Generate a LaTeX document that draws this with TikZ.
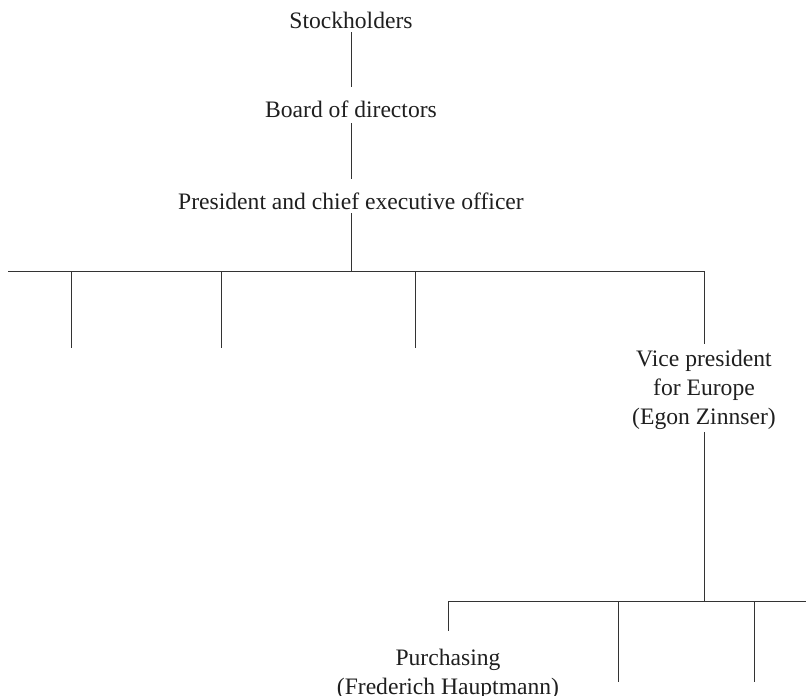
\documentclass[tikz,border=0pt]{standalone}
\usepackage{fontspec}
\setmainfont{Liberation Serif}
\begin{document}
\begin{tikzpicture}[x=1pt,y=-1pt,
  lbl/.style={inner sep=0pt,outer sep=0pt,align=center,text=black!88,
    font=\fontsize{23.6pt}{29pt}\selectfont},
  link/.style={draw=black!80,line width=1pt}]
  \useasboundingbox (0,0) rectangle (806,696);

  % chain of command
  \node[lbl,anchor=base] (stock) at (351,28) {Stockholders};
  \node[lbl,anchor=base] (board) at (351,117) {Board of directors};
  \node[lbl,anchor=base] (pres)  at (351,209) {President and chief executive officer};
  \node[lbl,anchor=north] (vp) at (704,350) {Vice president\\for Europe\\(Egon Zinnser)};
  \node[lbl,anchor=north] (purch) at (448,649) {Purchasing\\(Frederich Hauptmann)};

  % junction points
  \coordinate (top) at (351,271);
  \coordinate (tl) at (8,271);
  \coordinate (tr) at (704,271);
  \coordinate (t1) at (71,271);   \coordinate (d1) at (71,348);
  \coordinate (t2) at (221,271);  \coordinate (d2) at (221,348);
  \coordinate (t3) at (415,271);  \coordinate (d3) at (415,348);
  \coordinate (bot) at (704,601);
  \coordinate (bl) at (448,601);
  \coordinate (br) at (806,601);
  \coordinate (b1) at (618,601);  \coordinate (e1) at (618,682);
  \coordinate (b2) at (754,601);  \coordinate (e2) at (754,682);

  % shifts are in page points: positive goes up
  \draw[link] ([yshift=-4pt]stock.base) -- ([yshift=30pt]board.base);
  \draw[link] ([yshift=-6pt]board.base) -- ([yshift=30pt]pres.base);
  \draw[link] ([yshift=-4pt]pres.base) -- (top);

  \draw[link] (tl) -- (tr);
  \draw[link] (t1) -- (d1);
  \draw[link] (t2) -- (d2);
  \draw[link] (t3) -- (d3);
  \draw[link] (tr) -- ([yshift=6pt]vp.north);

  \draw[link] ([yshift=-3pt]vp.south) -- (bot);
  \draw[link] (bl) -- (br);
  \draw[link] (bl) -- ([yshift=18pt]purch.north);
  \draw[link] (b1) -- (e1);
  \draw[link] (b2) -- (e2);
\end{tikzpicture}
\end{document}
